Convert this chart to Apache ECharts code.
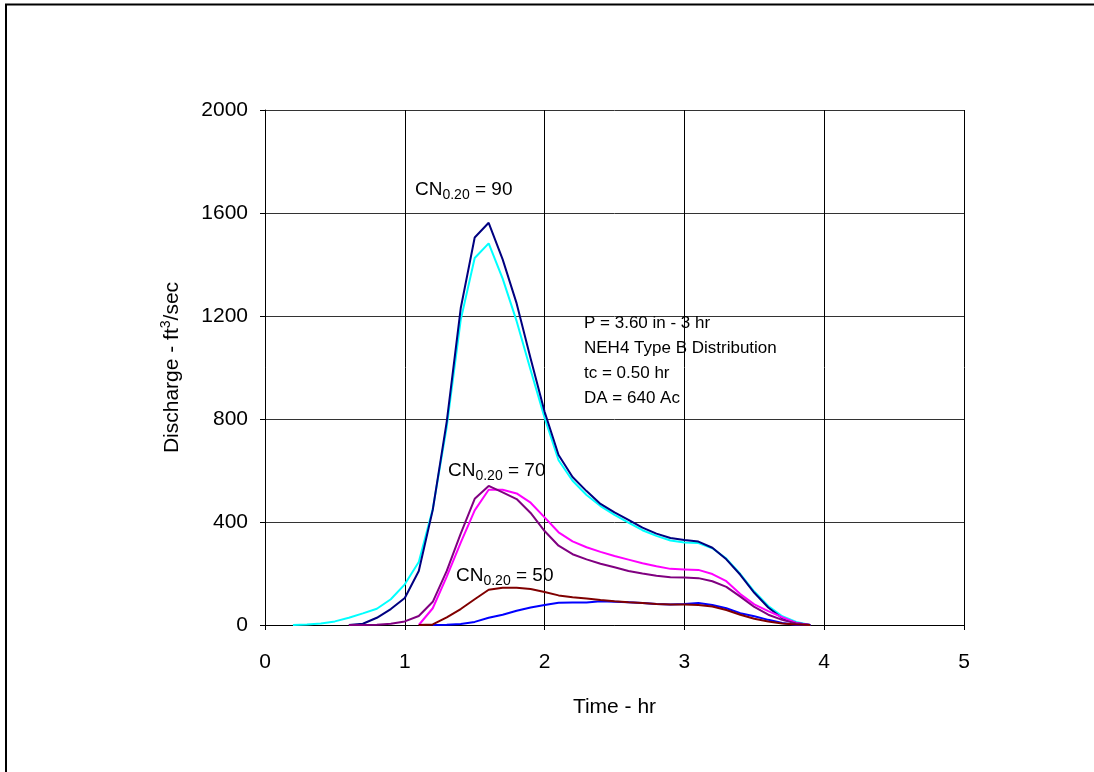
<!DOCTYPE html>
<html>
<head>
<meta charset="utf-8">
<title>Discharge hydrographs</title>
<script src="https://cdn.jsdelivr.net/npm/echarts@6/dist/echarts.min.js"></script>
<style>
    html, body { margin: 0; padding: 0; background: #fff; }
    #chart { width: 1094px; height: 772px; }
</style>
</head>
<body>
<div id="chart"></div>
<script>
// 时间 (hr)，步长 0.1
const times = [0.2, 0.3, 0.4, 0.5, 0.6, 0.7, 0.8, 0.9, 1.0, 1.1,
    1.2, 1.3, 1.4, 1.5, 1.6, 1.7, 1.8, 1.9, 2.0, 2.1,
    2.2, 2.3, 2.4, 2.5, 2.6, 2.7, 2.8, 2.9, 3.0, 3.1,
    3.2, 3.3, 3.4, 3.5, 3.6, 3.7, 3.8, 3.9];

// CN = 90 (两条)
const cn90Cyan = [0, 2, 6, 14, 28, 45, 63, 100, 158, 245,
    450, 770, 1185, 1425, 1482, 1345, 1180, 990, 805, 640,
    560, 505, 462, 428, 398, 368, 346, 328, 320, 318,
    298, 258, 198, 130, 74, 34, 12, 0];
const cn90Navy = [null, null, null, null, 0, 5, 28, 62, 105, 210,
    447, 790, 1230, 1505, 1562, 1420, 1249, 1035, 828, 660,
    575, 520, 470, 437, 408, 378, 355, 338, 330, 324,
    300, 255, 195, 125, 68, 26, 8, 0];

// CN = 70
const cn70Purple = [null, null, null, null, 0, 0, 1, 5, 14, 35,
    90, 210, 355, 490, 540, 515, 489, 435, 365, 308,
    275, 255, 238, 224, 210, 200, 191, 185, 184, 182,
    170, 148, 110, 70, 40, 20, 6, 0];
const cn70Magenta = [null, null, null, null, null, null, null, null, null, 0,
    65, 188, 320, 445, 525, 525, 511, 475, 418, 360,
    325, 302, 284, 268, 254, 240, 228, 218, 216, 214,
    198, 170, 120, 80, 54, 30, 8, 0];

// CN = 50
const cn50Maroon = [null, null, null, null, null, null, null, null, null, 0,
    2, 30, 62, 100, 137, 145, 145, 140, 128, 115,
    108, 103, 97, 92, 88, 85, 82, 80, 80, 78,
    72, 58, 40, 24, 14, 6, 2, 0];
const cn50Blue = [null, null, null, null, null, null, null, null, null, null,
    0, 1, 4, 12, 28, 40, 55, 68, 78, 86,
    87, 87, 92, 90, 88, 85, 82, 80, 82, 85,
    78, 65, 46, 34, 20, 8, 0, 0];

// 坐标轴刻度
const xTicks = [0, 1, 2, 3, 4, 5];
const yTicks = [0, 400, 800, 1200, 1600, 2000];

const noteLines = [
    'P = 3.60 in - 3 hr',
    'NEH4 Type B Distribution',
    'tc = 0.50 hr',
    'DA = 640 Ac'
];

const FONT = '"Liberation Sans", Arial, sans-serif';
const AXIS_FONT = 21;

/**
 * 把时间和流量拼成 [x, y] 点
 */
function toPoints(values) {
    return times.map((t, i) => [t, values[i]]);
}

function lineSeries(name, values, color) {
    return {
        name: name,
        type: 'line',
        data: toPoints(values),
        showSymbol: false,
        connectNulls: false,
        lineStyle: { color: color, width: 2 },
        itemStyle: { color: color },
        z: 3
    };
}

/**
 * CN 标注（带下标）
 */
function cnLabel(x, y, value) {
    return {
        type: 'text',
        left: x,
        top: y,
        z: 10,
        style: {
            text: '{m|CN}{s|0.20}{m| = ' + value + '}',
            rich: {
                m: { fontFamily: FONT, fontSize: 19, lineHeight: 25, fill: '#000' },
                s: { fontFamily: FONT, fontSize: 14, lineHeight: 14, verticalAlign: 'bottom', fill: '#000' }
            }
        }
    };
}

document.addEventListener('DOMContentLoaded', function () {
    const chart = echarts.init(document.getElementById('chart'));

    const graphics = [
        {
            type: 'rect',
            shape: { x: 6, y: 4.5, width: 1200, height: 900 },
            style: { fill: 'none', stroke: '#000', lineWidth: 2 },
            silent: true
        },
        cnLabel(415, 180, 90),
        cnLabel(448, 461, 70),
        cnLabel(456, 566, 50)
    ];
    noteLines.forEach((txt, i) => {
        graphics.push({
            type: 'text',
            left: 584,
            top: 315 + i * 25,
            z: 10,
            style: { text: txt, fontFamily: FONT, fontSize: 17, fill: '#000' }
        });
    });

    chart.setOption({
        animation: false,
        backgroundColor: '#fff',
        grid: { left: 265, right: 130, top: 110, bottom: 147, containLabel: false },
        xAxis: {
            type: 'value',
            min: xTicks[0],
            max: xTicks[xTicks.length - 1],
            interval: 1,
            name: 'Time - hr',
            nameLocation: 'middle',
            nameGap: 72,
            nameTextStyle: { fontFamily: FONT, fontSize: AXIS_FONT, color: '#000' },
            axisLine: { lineStyle: { color: '#000', width: 1 } },
            axisTick: { show: true, length: 5, lineStyle: { color: '#000' } },
            axisLabel: { fontFamily: FONT, fontSize: AXIS_FONT, color: '#000', margin: 27 },
            splitLine: { show: true, lineStyle: { color: '#000', width: 1 } }
        },
        yAxis: {
            type: 'value',
            min: yTicks[0],
            max: yTicks[yTicks.length - 1],
            interval: 400,
            name: 'Discharge - ft{sup|3}/sec',
            nameLocation: 'middle',
            nameGap: 80,
            nameRotate: 90,
            nameTextStyle: {
                fontFamily: FONT, fontSize: AXIS_FONT, color: '#000', lineHeight: 26,
                rich: {
                    sup: { fontFamily: FONT, fontSize: 14, lineHeight: 14, verticalAlign: 'top', color: '#000' }
                }
            },
            axisLine: { show: true, lineStyle: { color: '#000', width: 1 } },
            axisTick: { show: true, length: 5, lineStyle: { color: '#000' } },
            axisLabel: {
                fontFamily: FONT, fontSize: AXIS_FONT, color: '#000', margin: 17,
                formatter: function (v) { return String(v); }
            },
            splitLine: { show: true, lineStyle: { color: '#333', width: 1 } }
        },
        series: [
            lineSeries('CN90 b', cn90Cyan, '#00FFFF'),
            lineSeries('CN90 a', cn90Navy, '#000080'),
            lineSeries('CN70 b', cn70Magenta, '#FF00FF'),
            lineSeries('CN70 a', cn70Purple, '#800080'),
            lineSeries('CN50 b', cn50Blue, '#0000FF'),
            lineSeries('CN50 a', cn50Maroon, '#800000')
        ],
        graphic: graphics
    });

    window.addEventListener('resize', function () {
        chart.resize();
    });
});
</script>
</body>
</html>
